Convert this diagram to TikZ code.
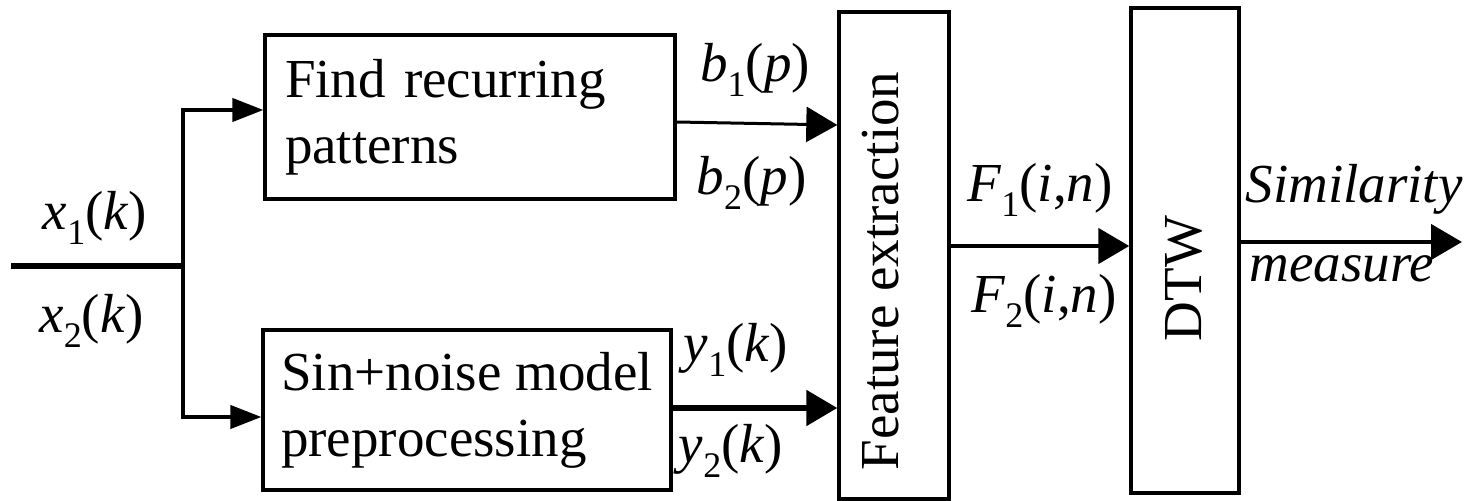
\documentclass[tikz,border=0pt]{standalone}
\usepackage{fontspec}
\setmainfont{Liberation Serif}
\usetikzlibrary{arrows.meta}
\newcommand\sbx[1]{\raisebox{-0.27em}{\fontsize{18pt}{18pt}\selectfont #1}}
\begin{document}
\begin{tikzpicture}[x=0.5pt,y=-0.5pt,
  every node/.style={font=\fontsize{27.5pt}{33pt}\selectfont, inner sep=0pt},
  procbox/.style={draw, line width=1.6pt, inner ysep=0pt, align=left},
  tallbox/.style={draw, line width=1.7pt},
  lbl/.style={anchor=base},
  bigarrow/.style={-{Triangle[length=15.5pt,width=17.5pt]}},
  smallarrow/.style={-{Triangle[length=15.5pt,width=11.5pt]}, line width=2pt}
]
\useasboundingbox (0,0) rectangle (1468,501);

% boxes
\node[procbox, inner xsep=10pt, text width=185pt, minimum height=82pt] (top) at (470,117) {Find recurring\\patterns};
\node[procbox, inner xsep=0pt, minimum width=204pt, minimum height=80pt] (bot) at (467,410) {Sin+noise model\\preprocessing};
\node[tallbox, minimum width=55pt, minimum height=243.5pt] (feat) at (894,255.5) {};
\node[rotate=90] (feattxt) at (881,271) {Feature extraction};
\node[tallbox, minimum width=54pt, minimum height=242.5pt] (dtw) at (1185,250.5) {};
\node[rotate=90] (dtwtxt) at (1183.5,278.5) {DTW};

% input and branches
\coordinate (in) at (11,266);
\coordinate (jn) at (183,266);
\draw[line width=2.6pt] (in) -- ([xshift=1pt]jn);
\draw[smallarrow] (jn) |- (top.west |- 0,110);
\draw[smallarrow] (jn) |- (bot.west |- 0,417);

% arrows to feature extraction
\draw[bigarrow, line width=1.5pt] (top.east |- 0,122) -- (feat.west |- 0,125);
\draw[bigarrow, line width=2.6pt] (bot.east |- 0,408) -- (feat.west |- 0,408);

% feature -> DTW
\draw[bigarrow, line width=2.4pt] (feat.east |- 0,246) -- (dtw.west |- 0,246);

% output
\coordinate (out) at (1462,242);
\draw[bigarrow, line width=2.3pt] (dtw.east |- out) -- (out);

% labels
\node[lbl] (lx1) at (95,230) {\textit{x}\sbx{1}(\textit{k})};
\node[lbl] (lx2) at (91.5,333) {\textit{x}\sbx{2}(\textit{k})};
\node[lbl] (lb1) at (755,82) {\textit{b}\sbx{1}(\textit{p})};
\node[lbl] (lb2) at (751.5,195) {\textit{b}\sbx{2}(\textit{p})};
\node[lbl] (ly1) at (736,362) {\textit{y}\sbx{1}(\textit{k})};
\node[lbl] (ly2) at (731,463) {\textit{y}\sbx{2}(\textit{k})};
\node[lbl] (lf1) at (1040,202) {\textit{F}\sbx{1}(\textit{i},\textit{n})};
\node[lbl] (lf2) at (1044,313) {\textit{F}\sbx{2}(\textit{i},\textit{n})};
\node[lbl] (lsim) at (1354,203) {\textit{Similarity}};
\node[lbl] (lmeas) at (1342,282) {\textit{measure}};
\end{tikzpicture}
\end{document}
